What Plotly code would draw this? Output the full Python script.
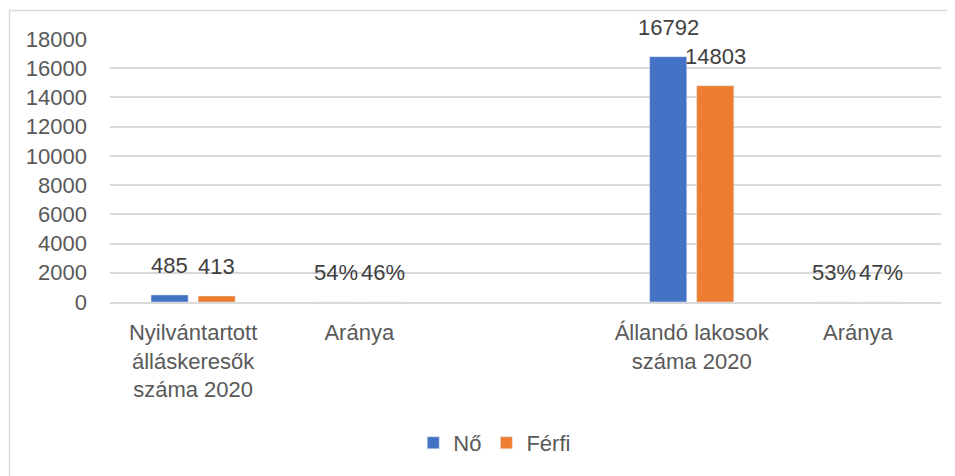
import plotly.graph_objects as go

# Categories (blank slot in the middle, as in the source chart)
categories = [
    "Nyilvántartott<br>álláskeresők<br>száma 2020",
    "Aránya",
    "",
    "Állandó lakosok<br>száma 2020",
    "Aránya",
]
no_values = [485, 0.54, None, 16792, 0.53]
ferfi_values = [413, 0.46, None, 14803, 0.47]
no_labels = ["485", "54%", "", "16792", "53%"]
ferfi_labels = ["413", "46%", "", "14803", "47%"]
y_ticks = list(range(0, 18001, 2000))

x_pos = list(range(len(categories)))

BLUE = "#4472C4"
ORANGE = "#ED7D31"
TEXT = "#595959"
FONT = "Liberation Sans"
FS = 22

fig = go.Figure()
fig.add_trace(go.Bar(x=x_pos, y=no_values, name="Nő", marker=dict(color=BLUE)))
fig.add_trace(go.Bar(x=x_pos, y=ferfi_values, name="Férfi", marker=dict(color=ORANGE)))

# data labels above the bars
slot = 0.2831
annotations = []
for xs, vals, labels in [(-slot / 2, no_values, no_labels), (slot / 2, ferfi_values, ferfi_labels)]:
    for x, v, t in zip(x_pos, vals, labels):
        if v is None:
            continue
        annotations.append(dict(
            x=x + xs, y=v, text=t, showarrow=False,
            xref="x", yref="y", yanchor="bottom", yshift=15,
            font=dict(family=FONT, size=FS, color="#404040"),
        ))

# page body has an 8px margin, so the figure is a bit smaller than the window
fig.update_layout(
    width=947,
    height=468,
    margin=dict(l=102, r=14, t=31, b=174),
    paper_bgcolor="white",
    plot_bgcolor="white",
    barmode="group",
    bargap=0.434,
    bargroupgap=0.21,
    font=dict(family=FONT, size=FS, color=TEXT),
    annotations=annotations,
    showlegend=True,
    legend=dict(
        orientation="h", x=0.463, xanchor="center", y=-0.536, yanchor="middle",
        font=dict(family=FONT, size=FS, color=TEXT),
        itemwidth=30,
    ),
    shapes=[dict(
        type="rect", xref="paper", yref="paper",
        x0=(9.5 - 110) / 831, x1=1.2, y0=-1.0, y1=1 + 28.5 / 263,
        line=dict(color="#d9d9d9", width=1.5), fillcolor="rgba(0,0,0,0)",
        layer="below",
    )],
)

fig.update_xaxes(
    range=[-0.5, 4.5],
    tickmode="array",
    tickvals=x_pos,
    ticktext=categories,
    showgrid=False,
    showline=True,
    linecolor="#d9d9d9",
    linewidth=1.5,
    ticks="",
    ticklabelstandoff=10,
    automargin=False,
    tickfont=dict(family=FONT, size=FS, color=TEXT),
)
fig.update_yaxes(
    range=[0, 18000],
    tickmode="array",
    tickvals=y_ticks,
    ticktext=[str(v) for v in y_ticks],
    showgrid=True,
    gridcolor="#d9d9d9",
    gridwidth=1.5,
    zeroline=False,
    showline=False,
    ticks="",
    ticklabelstandoff=22,
    automargin=False,
    tickfont=dict(family=FONT, size=FS, color=TEXT),
)

fig.write_html("out.html")
